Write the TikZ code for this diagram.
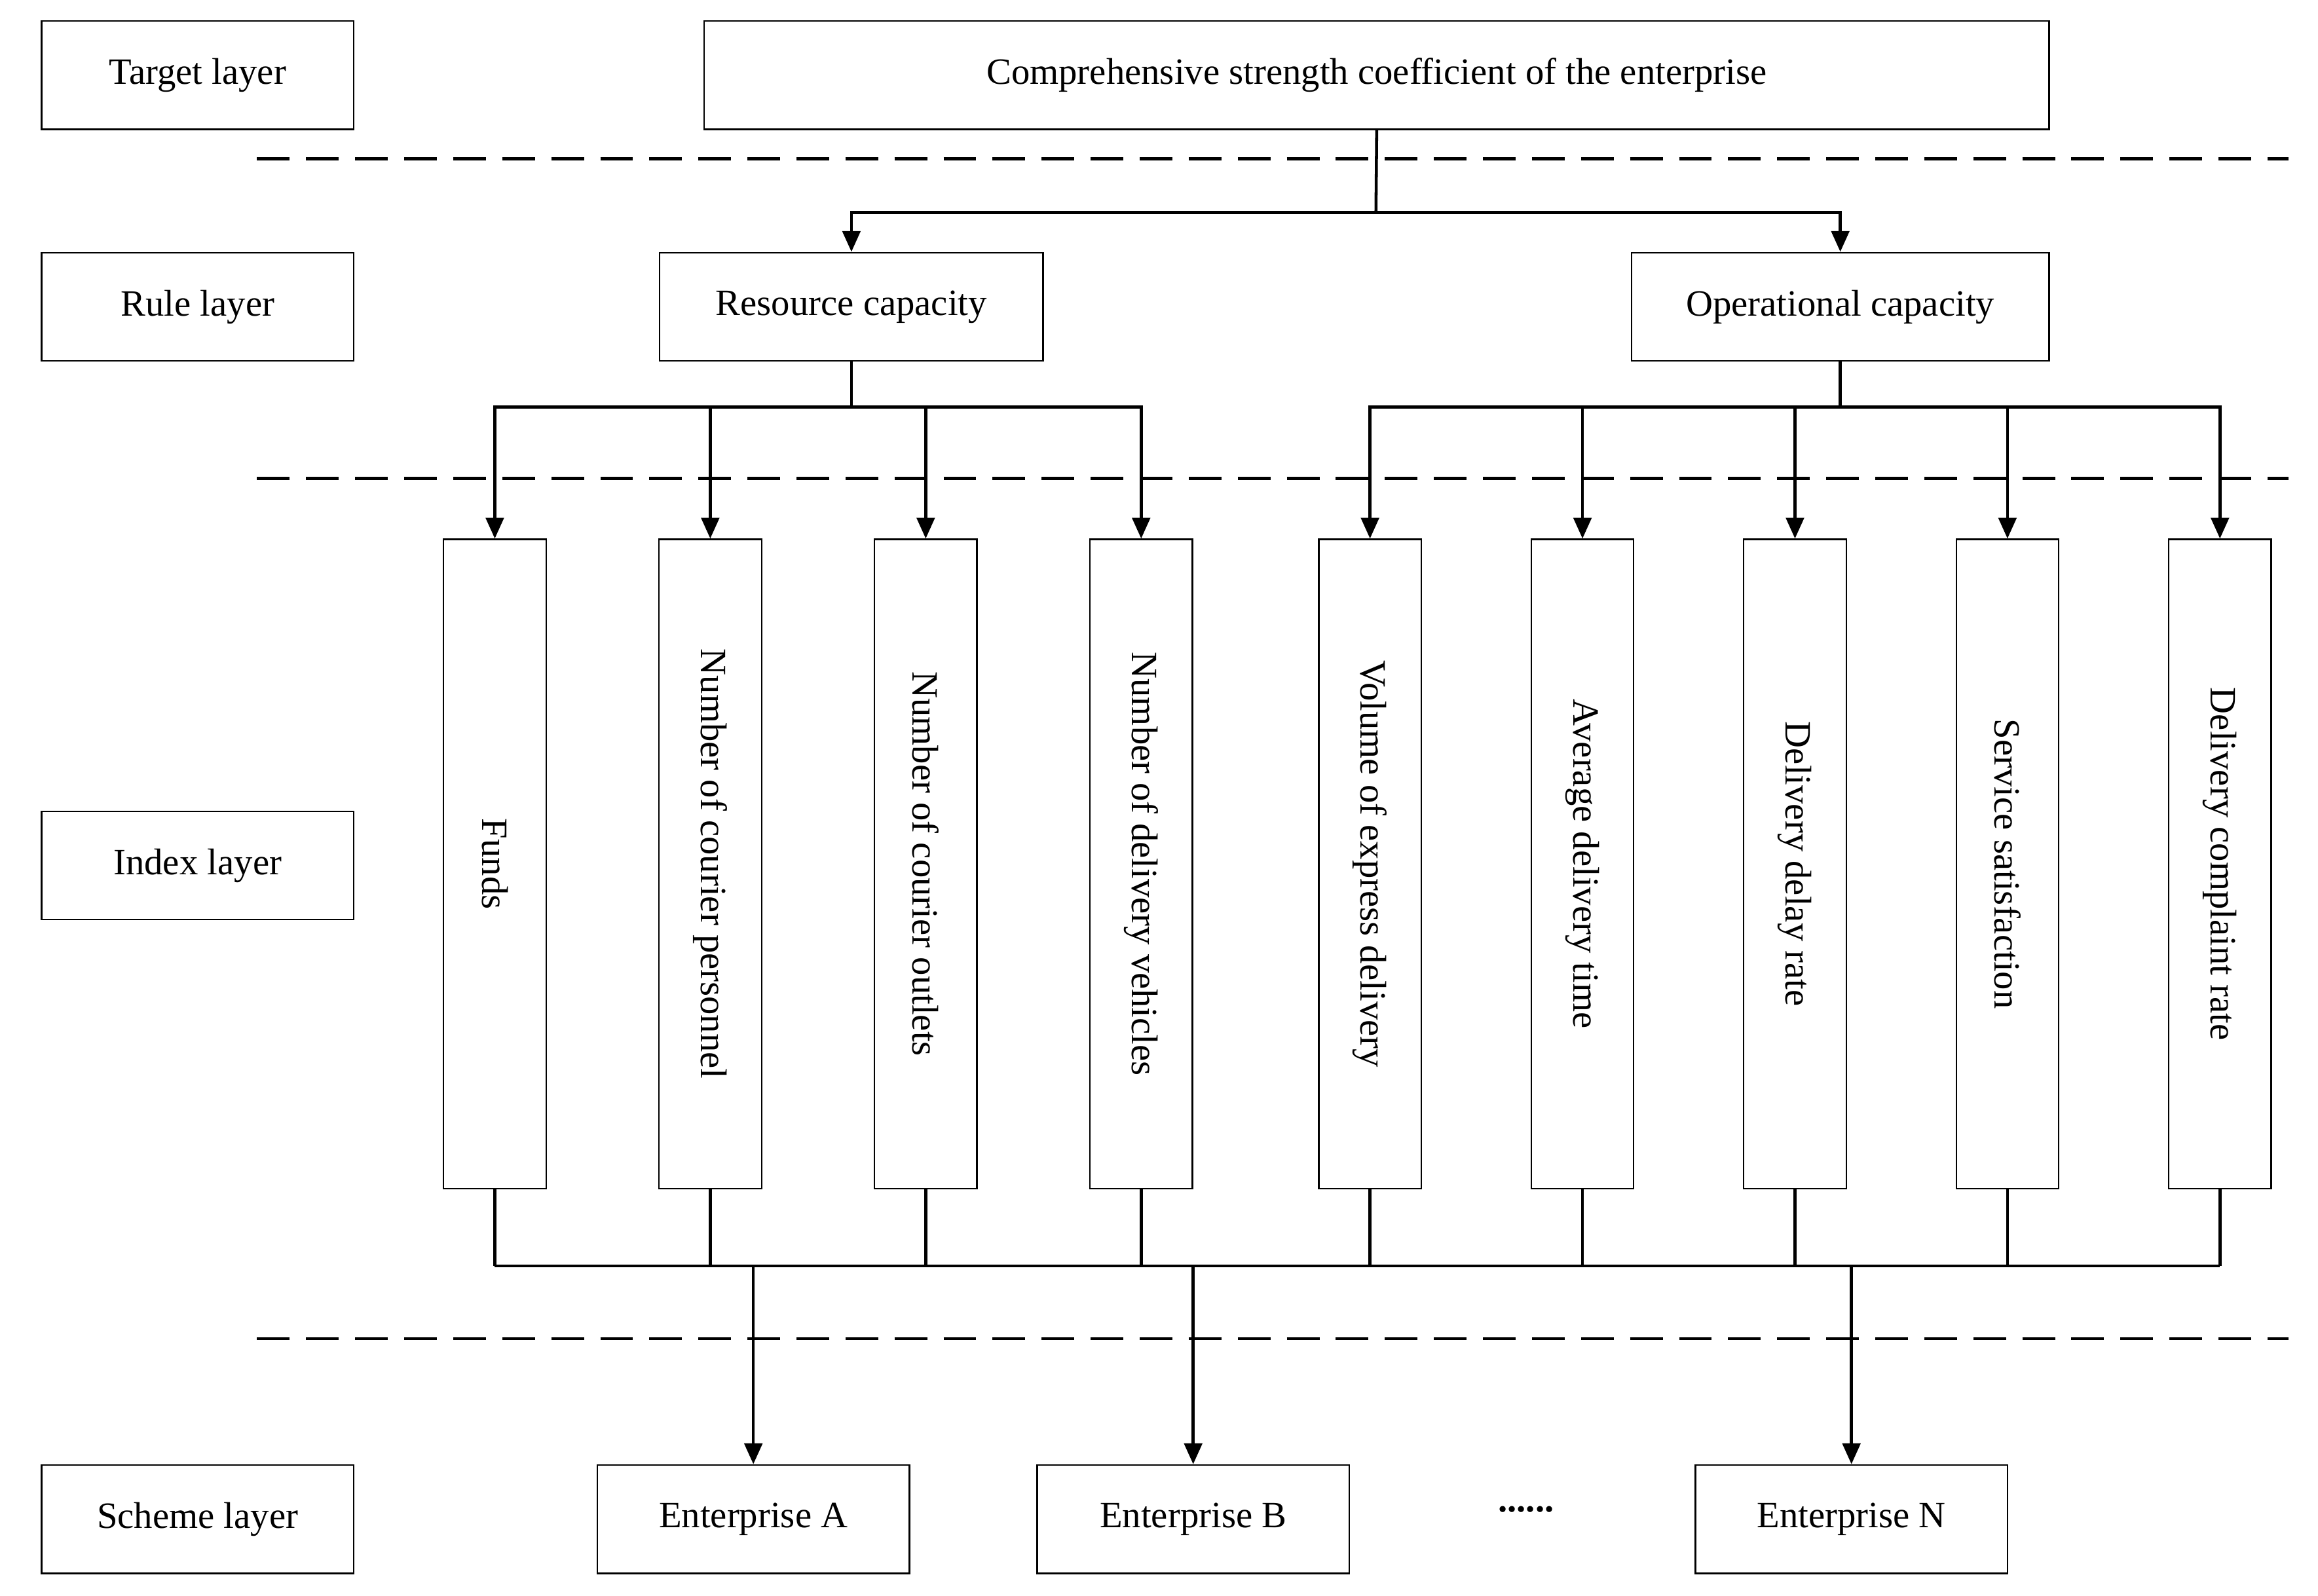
\documentclass[tikz,border=0pt]{standalone}
\usepackage{fontspec}
\setmainfont{Liberation Serif}
\usetikzlibrary{arrows.meta}
\begin{document}
\begin{tikzpicture}[x=1pt,y=-1pt,
  box/.style={draw,line width=1pt,inner sep=0pt,font=\fontsize{25}{29}\selectfont},
  ln/.style={line width=2pt},
  arr/.style={ln,-{Triangle[length=14pt,width=12pt]}},
  dashln/.style={line width=2pt,dash pattern=on 22pt off 11pt}]
\useasboundingbox (0,0) rectangle (1560,1074);
\fill[white] (0,0) rectangle (1560,1074);
\newcommand{\bx}[6]{\node[box,minimum width=#4-#2,minimum height=#5-#3] (#1) at ({(#2+#4)/2},{(#3+#5)/2}) {#6};}
\bx{tl}{28}{14}{238}{87}{Target layer}
\bx{rl}{28}{170}{238}{243}{Rule layer}
\bx{il}{28}{546}{238}{619}{Index layer}
\bx{sl}{28}{986}{238}{1059}{Scheme layer}
\bx{top}{474}{14}{1379}{87}{Comprehensive strength coefficient of the enterprise}
\bx{res}{444}{170}{702}{243}{Resource capacity}
\bx{ope}{1098}{170}{1379}{243}{Operational capacity}
\bx{ea}{402}{986}{612}{1059}{Enterprise A}
\bx{eb}{698}{986}{908}{1059}{Enterprise B}
\bx{en}{1141}{986}{1351}{1059}{Enterprise N}
\node[font=\fontsize{25}{29}\selectfont\bfseries] (dots) at (1027,1016) {......};
\foreach \y in {107,322,901} \draw[dashln] (173,\y) -- (1540,\y);
\foreach \n/\x/\t in {i1/333/Funds,i2/478/Number of courier personnel,i3/623/Number of courier outlets,i4/768/Number of delivery vehicles,i5/922/Volume of express delivery,i6/1065/Average delivery time,i7/1208/Delivery delay rate,i8/1351/Service satisfaction,i9/1494/Delivery complaint rate}
  \node[box,minimum width=69,minimum height=437,label={[rotate=-90,font=\fontsize{25}{29}\selectfont]center:\t}] (\n) at (\x,581.5) {};
\coordinate (t1) at (926,143);
\draw[ln] (top.south) -- (t1);
\draw[arr] (t1) -| (res.north);
\draw[arr] (t1) -| (ope.north);
\coordinate (r1) at (573,274);
\draw[ln] (res.south) -- (r1);
\foreach \n in {i1,i2,i3,i4} \draw[arr] (r1) -| (\n.north);
\coordinate (o1) at (1238.5,274);
\draw[ln] (ope.south) -- (o1);
\foreach \n in {i5,i6,i7,i8,i9} \draw[arr] (o1) -| (\n.north);
\coordinate (b1) at (333,852); \coordinate (b2) at (1494,852);
\draw[ln] (b1) -- (b2);
\foreach \n in {i1,i2,i3,i4,i5,i6,i7,i8,i9} \draw[ln] (\n.south) -- (\n.south |- b1);
\foreach \n in {ea,eb,en} \draw[arr] (\n.north |- b1) -- (\n.north);
\end{tikzpicture}
\end{document}
